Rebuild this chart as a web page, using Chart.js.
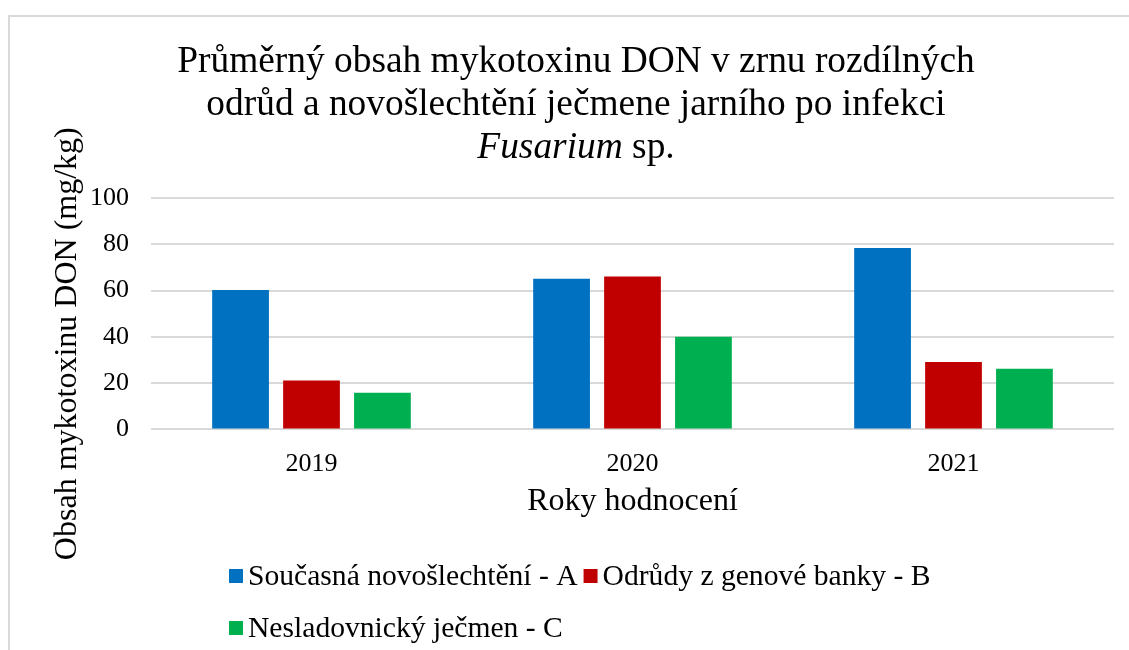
<!DOCTYPE html>
<html>
<head>
<meta charset="utf-8">
<script src="https://cdn.jsdelivr.net/npm/chart.js@4.4.1/dist/chart.umd.min.js"></script>
<style>
    html, body { margin: 0; padding: 0; background: #fff; }
    body { width: 1129px; height: 650px; position: relative; overflow: hidden; }
    #frame { position: absolute; left: 8px; top: 15px; width: 1200px; height: 700px; border: 2px solid #d9d9d9; box-sizing: border-box; }
    #wrap { position: absolute; left: 0; top: 0; width: 1129px; height: 650px; }
</style>
</head>
<body>
<div id="frame"></div>
<div id="wrap"><canvas id="donChart" width="1129" height="650"></canvas></div>
<script>
// Data
const years = ['2019', '2020', '2021'];
const seriesNames = ['Současná novošlechtění - A', 'Odrůdy z genové banky - B', 'Nesladovnický ječmen - C'];
const seriesA = [60.2, 65.1, 78.4];
const seriesB = [21.1, 66.1, 29.1];
const seriesC = [15.8, 40.0, 26.2];
const seriesColors = ['#0070c0', '#c00000', '#00b050'];
const yTicks = [0, 20, 40, 60, 80, 100];

const titleLines = [
    [{ text: 'Průměrný obsah mykotoxinu DON v zrnu rozdílných' }],
    [{ text: 'odrůd a novošlechtění ječmene jarního po infekci' }],
    [{ text: 'Fusarium', italic: true }, { text: ' sp.' }]
];
const yTitle = 'Obsah mykotoxinu DON (mg/kg)';
const xTitle = 'Roky hodnocení';
const legendRows = [[0, 1], [2]];

const serif = "'Liberation Serif', serif";

// title with the italic genus name
const titlePlugin = {
    id: 'mixedTitle',
    afterDraw(chart) {
        const ctx = chart.ctx;
        ctx.save();
        ctx.fillStyle = '#000';
        ctx.textBaseline = 'alphabetic';
        ctx.textAlign = 'left';
        titleLines.forEach(function(parts, i) {
            let total = 0;
            parts.forEach(function(p) {
                ctx.font = (p.italic ? 'italic ' : '') + '37.4px ' + serif;
                total += ctx.measureText(p.text).width;
            });
            let x = 576 - total / 2;
            const y = 72 + i * 43;
            parts.forEach(function(p) {
                ctx.font = (p.italic ? 'italic ' : '') + '37.4px ' + serif;
                ctx.fillText(p.text, x, y);
                x += ctx.measureText(p.text).width;
            });
        });
        ctx.restore();
    }
};

// y axis title sits a bit lower than the plot centre, like in the original
const yTitlePlugin = {
    id: 'yTitle',
    afterDraw(chart) {
        const ctx = chart.ctx;
        const area = chart.chartArea;
        ctx.save();
        ctx.translate(area.left - 83, (area.top + area.bottom) / 2 + 30);
        ctx.rotate(-Math.PI / 2);
        ctx.font = '32px ' + serif;
        ctx.fillStyle = '#000';
        ctx.textAlign = 'center';
        ctx.textBaseline = 'middle';
        ctx.fillText(yTitle, 0, 0);
        ctx.restore();
    }
};

// legend in two left-aligned rows under the axis title
const legendPlugin = {
    id: 'rowLegend',
    afterDraw(chart) {
        const ctx = chart.ctx;
        ctx.save();
        ctx.font = '29.6px ' + serif;
        ctx.textBaseline = 'middle';
        ctx.textAlign = 'left';
        legendRows.forEach(function(row, r) {
            let x = 229;
            const y = 576 + r * 52;
            row.forEach(function(i) {
                ctx.fillStyle = seriesColors[i];
                ctx.fillRect(x, y - 7, 14, 14);
                ctx.fillStyle = '#000';
                ctx.fillText(seriesNames[i], x + 19, y + 1);
                x += 19 + ctx.measureText(seriesNames[i]).width + 6;
            });
        });
        ctx.restore();
    }
};

const allSeries = [seriesA, seriesB, seriesC];
const datasets = allSeries.map(function(values, i) {
    return {
        label: seriesNames[i],
        data: values,
        backgroundColor: seriesColors[i],
        borderWidth: 0,
        categoryPercentage: 0.663,
        barPercentage: 0.8
    };
});

Chart.defaults.font.family = serif;
Chart.defaults.color = '#000';

new Chart(document.getElementById('donChart').getContext('2d'), {
    type: 'bar',
    data: { labels: years, datasets: datasets },
    plugins: [titlePlugin, yTitlePlugin, legendPlugin],
    options: {
        responsive: false,
        animation: false,
        layout: { padding: { top: 198, left: 68, right: 15, bottom: 129 } },
        plugins: {
            legend: { display: false },
            title: { display: false },
            tooltip: { enabled: false }
        },
        scales: {
            x: {
                grid: { display: false },
                border: { display: false },
                ticks: { font: { size: 26 }, padding: 11 },
                title: { display: true, text: xTitle, font: { size: 32 }, padding: { top: -8, bottom: 0 } }
            },
            y: {
                min: 0,
                max: 100,
                afterBuildTicks: function(scale) {
                    scale.ticks = yTicks.map(function(v) { return { value: v }; });
                },
                grid: { color: '#d9d9d9', lineWidth: 2, drawTicks: false },
                border: { display: false },
                ticks: { font: { size: 26 }, padding: 22 }
            }
        }
    }
});
</script>
</body>
</html>
